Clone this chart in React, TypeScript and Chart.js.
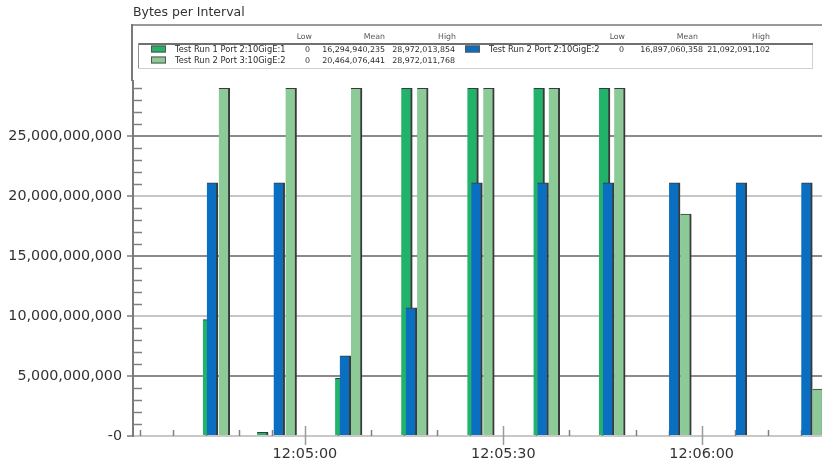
import React, { useEffect, useRef } from 'react';
import { Chart, registerables } from 'chart.js';

Chart.register(...registerables);

// ---- data (x = seconds after 12:00:00) ----
const run1Port2Times = [285.4, 293.6, 305.4, 315.4, 325.4, 335.4, 345.3];
const run1Port2Values = [9.7e9, 0.3e9, 4.8e9, 28.972e9, 28.972e9, 28.972e9, 28.972e9];

const run2Port2Times = [286.0, 296.1, 306.1, 316.1, 326.0, 336.0, 345.9, 355.9, 366.0, 375.9];
const run2Port2Values = [21.092e9, 21.092e9, 6.67e9, 10.67e9, 21.092e9, 21.092e9, 21.092e9, 21.092e9, 21.092e9, 21.092e9];

const run2Port3Times = [287.8, 297.9, 307.8, 317.8, 327.8, 337.7, 347.6, 357.6, 377.6];
const run2Port3Values = [28.972e9, 28.972e9, 28.972e9, 28.972e9, 28.972e9, 28.972e9, 28.972e9, 18.5e9, 3.9e9];

const seriesNames = ['Test Run 1 Port 2:10GigE:1', 'Test Run 2 Port 3:10GigE:2', 'Test Run 2 Port 2:10GigE:2'];
const seriesLow = [0, 0, 0];
const seriesMean = [16294940235, 20464076441, 16897060358];
const seriesHigh = [28972013854, 28972011768, 21092091102];
const seriesColors = ['#22b26a', '#8ccb98', '#0a6fc0'];

const headerLabels = ['Low', 'Mean', 'High'];
const chartTitle = 'Bytes per Interval';

const xMin = 274;
const xMax = 378.2;
const yMax = 29.58e9;
const yMinorStep = 1e9;
const yMajorStep = 5e9;
const xMinorStep = 5;
const xMajorStep = 30;

const FONT = '"DejaVu Sans", Verdana, sans-serif';

const fmt = (n: number) => n.toLocaleString('en-US');
const fmtTime = (v: number) => {
  const total = Math.round(v);
  const m = Math.floor(total / 60);
  const s = total % 60;
  return `12:${String(m).padStart(2, '0')}:${String(s).padStart(2, '0')}`;
};

const toPoints = (xs: number[], ys: number[]) => xs.map((x, i) => ({ x, y: ys[i] }));

const stepTicks = (min: number, max: number, step: number) => {
  const out: { value: number }[] = [];
  for (let i = Math.ceil(min / step - 1e-9); i * step <= max + 1e-9; i++) out.push({ value: i * step });
  return out;
};

const decorPlugin = {
  id: 'decor',
  beforeDatasetsDraw(chart: any) {
    const { ctx, chartArea: a, scales } = chart;
    const x = scales.x;
    const y = scales.y;
    ctx.save();
    // y minor ticks (inside plot)
    ctx.strokeStyle = '#808080';
    ctx.lineWidth = 1.5;
    const nY = Math.floor(y.max / yMinorStep);
    for (let i = 1; i <= nY; i++) {
      if (i % Math.round(yMajorStep / yMinorStep) === 0) continue;
      const py = Math.round(y.getPixelForValue(i * yMinorStep)) + 0.5;
      ctx.beginPath();
      ctx.moveTo(a.left, py);
      ctx.lineTo(a.left + 9, py);
      ctx.stroke();
    }
    // x ticks
    const first = Math.ceil(x.min / xMinorStep);
    const last = Math.floor(x.max / xMinorStep);
    for (let i = first; i <= last; i++) {
      const v = i * xMinorStep;
      const px = Math.round(x.getPixelForValue(v)) + 0.5;
      ctx.beginPath();
      if (v % xMajorStep === 0) {
        ctx.strokeStyle = '#9a9a9a';
        ctx.lineWidth = 1.5;
        ctx.moveTo(px, a.bottom - 10);
        ctx.lineTo(px, a.bottom + 9);
      } else {
        ctx.strokeStyle = '#808080';
        ctx.lineWidth = 1.5;
        ctx.moveTo(px, a.bottom - 6);
        ctx.lineTo(px, a.bottom);
      }
      ctx.stroke();
    }
    ctx.restore();
  },
  afterDraw(chart: any) {
    const { ctx, chartArea: a, width } = chart;
    ctx.save();
    // title
    ctx.fillStyle = '#333';
    ctx.font = `12.5px ${FONT}`;
    ctx.textAlign = 'left';
    ctx.textBaseline = 'middle';
    ctx.fillText(chartTitle, a.left, 13);

    // outer frame
    ctx.strokeStyle = '#999';
    ctx.lineWidth = 2;
    ctx.beginPath();
    ctx.moveTo(a.left - 1, 25);
    ctx.lineTo(width, 25);
    ctx.stroke();
    ctx.strokeStyle = '#7a7a7a';
    ctx.beginPath();
    ctx.moveTo(a.left - 1, 24);
    ctx.lineTo(a.left - 1, a.top);
    ctx.stroke();

    // inner legend box
    const boxL = 138, boxR = 812, boxT = 43, boxB = 68;
    ctx.strokeStyle = '#d0d0d0';
    ctx.lineWidth = 1;
    ctx.strokeRect(boxL + 0.5, boxT + 0.5, boxR - boxL, boxB - boxT);
    ctx.strokeStyle = '#707070';
    ctx.lineWidth = 2;
    ctx.beginPath();
    ctx.moveTo(boxL, boxT + 1);
    ctx.lineTo(boxR + 1, boxT + 1);
    ctx.stroke();
    ctx.strokeStyle = '#909090';
    ctx.lineWidth = 1;
    ctx.beginPath();
    ctx.moveTo(boxL + 0.5, boxT);
    ctx.lineTo(boxL + 0.5, boxB);
    ctx.stroke();

    const cols = [
      { sw: 151, name: 175, vals: [310, 385, 455], heads: [312, 385, 456] },
      { sw: 465, name: 489, vals: [624, 703, 770], heads: [625, 698, 770] },
    ];
    const rowsY = [49.5, 60.5];
    const placement = [
      { col: 0, row: 0 },
      { col: 0, row: 1 },
      { col: 1, row: 0 },
    ];
    // headers
    ctx.fillStyle = '#555';
    ctx.font = `7.8px ${FONT}`;
    ctx.textAlign = 'right';
    cols.forEach((c) => {
      headerLabels.forEach((h, k) => ctx.fillText(h, c.heads[k], 36.5));
    });
    // rows
    seriesNames.forEach((name, i) => {
      const p = placement[i];
      const c = cols[p.col];
      const ry = rowsY[p.row];
      ctx.fillStyle = seriesColors[i];
      ctx.fillRect(c.sw, ry - 4, 15, 7);
      ctx.strokeStyle = '#555';
      ctx.lineWidth = 1;
      ctx.strokeRect(c.sw + 0.5, ry - 4 + 0.5, 14, 6);
      ctx.fillStyle = '#2a2a2a';
      ctx.font = `8.3px ${FONT}`;
      ctx.textAlign = 'left';
      ctx.fillText(name, c.name, ry);
      ctx.font = `7.9px ${FONT}`;
      ctx.textAlign = 'right';
      ctx.fillText(fmt(seriesLow[i]), c.vals[0], ry);
      ctx.fillText(fmt(seriesMean[i]), c.vals[1], ry);
      ctx.fillText(fmt(seriesHigh[i]), c.vals[2], ry);
    });
    ctx.restore();
  },
};

export default function App() {
  const ref = useRef<HTMLCanvasElement | null>(null);

  useEffect(() => {
    document.body.style.margin = '0';
    const canvas = ref.current;
    if (!canvas) return;
    const barBorder = { top: 1, right: 2, bottom: 0, left: 0 };
    const chart = new Chart(canvas, {
      type: 'bar',
      data: {
        datasets: [
          {
            label: seriesNames[0],
            data: toPoints(run1Port2Times, run1Port2Values),
            backgroundColor: seriesColors[0],
            borderColor: '#3a3a3a',
            borderWidth: barBorder,
            order: 2,
          },
          {
            label: seriesNames[2],
            data: toPoints(run2Port2Times, run2Port2Values),
            backgroundColor: seriesColors[2],
            borderColor: '#3a3a3a',
            borderWidth: barBorder,
            order: 1,
          },
          {
            label: seriesNames[1],
            data: toPoints(run2Port3Times, run2Port3Values),
            backgroundColor: seriesColors[1],
            borderColor: '#3a3a3a',
            borderWidth: barBorder,
            order: 3,
          },
        ],
      },
      options: {
        animation: false,
        responsive: false,
        devicePixelRatio: 1,
        layout: { padding: { top: 81, right: 0, bottom: 0, left: 0 } },
        datasets: {
          bar: { grouped: false, barThickness: 11, borderSkipped: false },
        },
        plugins: {
          legend: { display: false },
          tooltip: { enabled: false },
          title: { display: false },
        },
        scales: {
          x: {
            type: 'linear',
            min: xMin,
            max: xMax,
            offset: false,
            grid: { display: true, offset: false, drawOnChartArea: false, drawTicks: false },
            border: { color: '#c8c8c8', width: 2 },
            ticks: {
              autoSkip: false,
              maxRotation: 0,
              padding: 10,
              color: '#333',
              font: { family: FONT, size: 14.4 },
              callback: (v: any) => fmtTime(Number(v)),
            },
            afterBuildTicks: (s: any) => {
              s.ticks = stepTicks(xMin, xMax, xMajorStep);
            },
            afterFit: (s: any) => {
              s.height = 32;
            },
          },
          y: {
            min: 0,
            max: yMax,
            grid: {
              color: (c: any) => (c.tick && c.tick.value % (2 * yMajorStep) === 0 ? '#c6c6c6' : '#8a8a8a'),
              lineWidth: 2,
              drawTicks: true,
              tickLength: 6,
              tickColor: '#7a7a7a',
              tickWidth: 1.5,
            },
            border: { color: '#7a7a7a', width: 2 },
            ticks: {
              padding: 5,
              autoSkip: false,
              color: '#333',
              font: { family: FONT, size: 14.3 },
              callback: (v: any) => fmt(Number(v)),
            },
            afterBuildTicks: (s: any) => {
              s.ticks = stepTicks(0, yMax, yMajorStep);
            },
            afterFit: (s: any) => {
              s.width = 133;
            },
          },
        },
      },
      plugins: [decorPlugin],
    } as any);
    return () => chart.destroy();
  }, []);

  return (
    <div style={{ width: 822, height: 468 }}>
      <canvas ref={ref} width={822} height={468} style={{ display: 'block' }} />
    </div>
  );
}
